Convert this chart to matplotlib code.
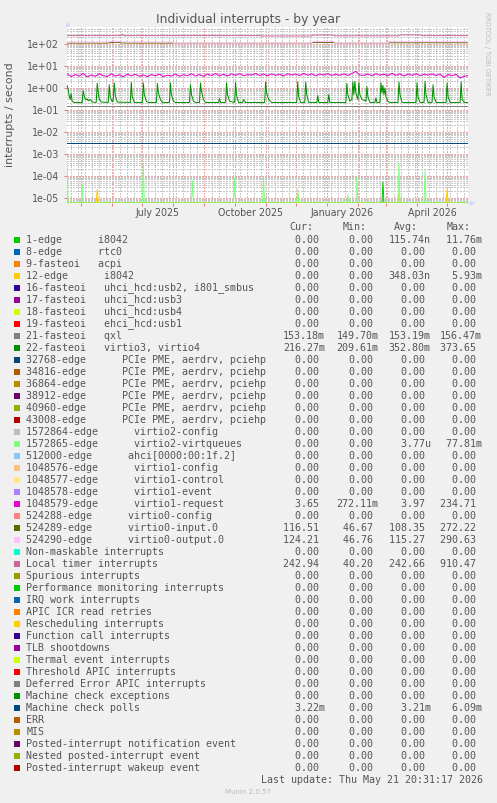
import numpy as np
import pandas as pd
import matplotlib
matplotlib.use('Agg')
import matplotlib.pyplot as plt
import matplotlib.dates as mdates
from matplotlib.ticker import LogLocator, FuncFormatter, NullFormatter
from matplotlib.transforms import blended_transform_factory
from matplotlib.patches import Rectangle
from matplotlib.lines import Line2D

# --- legend table (munin order) ---
names = [
    '1-edge      i8042', '8-edge      rtc0', '9-fasteoi   acpi', '12-edge      i8042',
    '16-fasteoi   uhci_hcd:usb2, i801_smbus', '17-fasteoi   uhci_hcd:usb3',
    '18-fasteoi   uhci_hcd:usb4', '19-fasteoi   ehci_hcd:usb1', '21-fasteoi   qxl',
    '22-fasteoi   virtio3, virtio4',
    '32768-edge      PCIe PME, aerdrv, pciehp', '34816-edge      PCIe PME, aerdrv, pciehp',
    '36864-edge      PCIe PME, aerdrv, pciehp', '38912-edge      PCIe PME, aerdrv, pciehp',
    '40960-edge      PCIe PME, aerdrv, pciehp', '43008-edge      PCIe PME, aerdrv, pciehp',
    '1572864-edge      virtio2-config', '1572865-edge      virtio2-virtqueues',
    '512000-edge      ahci[0000:00:1f.2]', '1048576-edge      virtio1-config',
    '1048577-edge      virtio1-control', '1048578-edge      virtio1-event',
    '1048579-edge      virtio1-request', '524288-edge      virtio0-config',
    '524289-edge      virtio0-input.0', '524290-edge      virtio0-output.0',
    'Non-maskable interrupts', 'Local timer interrupts', 'Spurious interrupts',
    'Performance monitoring interrupts', 'IRQ work interrupts', 'APIC ICR read retries',
    'Rescheduling interrupts', 'Function call interrupts', 'TLB shootdowns',
    'Thermal event interrupts', 'Threshold APIC interrupts',
    'Deferred Error APIC interrupts', 'Machine check exceptions', 'Machine check polls',
    'ERR', 'MIS', 'Posted-interrupt notification event', 'Nested posted-interrupt event',
    'Posted-interrupt wakeup event',
]
colors = [
    '#00CC00', '#0066B3', '#FF8000', '#FFCC00', '#330099', '#990099', '#CCFF00', '#FF0000',
    '#808080', '#008F00', '#00487D', '#B35A00', '#B38F00', '#6B006B', '#8FB300', '#B30000',
    '#BEBEBE', '#80FF80', '#80C9FF', '#FFC080', '#FFE680', '#AA80FF', '#EE00CC', '#FF8080',
    '#666600', '#FFBFFF', '#00FFCC', '#CC6699', '#999900',
    '#00CC00', '#0066B3', '#FF8000', '#FFCC00', '#330099', '#990099', '#CCFF00', '#FF0000',
    '#808080', '#008F00', '#00487D', '#B35A00', '#B38F00', '#6B006B', '#8FB300', '#B30000',
]
cur = [0] * 45
mins = [0] * 45
avgs = [0] * 45
maxs = [0] * 45
cur[8], mins[8], avgs[8], maxs[8] = 153.18e-3, 149.70e-3, 153.19e-3, 156.47e-3
cur[9], mins[9], avgs[9], maxs[9] = 216.27e-3, 209.61e-3, 352.80e-3, 373.65
avgs[0], maxs[0] = 115.74e-9, 11.76e-3
avgs[3], maxs[3] = 348.03e-9, 5.93e-3
avgs[17], maxs[17] = 3.77e-6, 77.81e-3
cur[22], mins[22], avgs[22], maxs[22] = 3.65, 272.11e-3, 3.97, 234.71
cur[24], mins[24], avgs[24], maxs[24] = 116.51, 46.67, 108.35, 272.22
cur[25], mins[25], avgs[25], maxs[25] = 124.21, 46.76, 115.27, 290.63
cur[27], mins[27], avgs[27], maxs[27] = 242.94, 40.20, 242.66, 910.47
cur[39], mins[39], avgs[39], maxs[39] = 3.22e-3, 0, 3.21e-3, 6.09e-3

# --- series (x = days since 2025-04-17) ---
virtio34_days = [0, 1, 2, 3, 4, 5, 7, 15, 16, 17, 18, 20, 21, 23, 25, 29, 30, 31, 32, 34,
                 41, 42, 43, 45, 46, 47, 48, 50, 63, 64, 65, 67, 75, 76, 77, 79, 81,
                 89, 90, 91, 93, 95, 102, 103, 104, 106, 108, 122, 123, 124, 126, 128,
                 132, 133, 134, 136, 138, 151, 152, 153, 158, 159, 160, 162, 167, 168, 169, 171,
                 175, 176, 178, 197, 198, 199, 201, 204, 229, 230, 231, 233, 237, 238, 239, 241,
                 249, 250, 251, 260, 261, 262, 278, 279, 280, 282, 284, 285, 286, 287, 288, 290,
                 291, 292, 294, 298, 299, 300, 302, 307, 308, 309, 312, 313, 314, 315, 316, 317,
                 318, 320, 322, 330, 331, 332, 334, 348, 349, 350, 352, 356, 357, 358, 360,
                 364, 365, 366, 368, 378, 379, 380, 382, 392, 393, 394, 396, 400]
virtio34_vals = [1.3, 0.9, 0.45, 0.3, 0.55, 0.25, 0.22, 0.22, 0.75, 0.45, 0.3, 0.32, 0.26, 0.3, 0.23,
                 0.22, 1.65, 0.6, 0.32, 0.23, 0.22, 1.4, 0.4, 0.23, 0.3, 1.7, 0.45, 0.23,
                 0.22, 1.8, 0.4, 0.22, 0.22, 1.7, 0.5, 0.25, 0.22, 0.22, 1.6, 0.6, 0.3, 0.22,
                 0.22, 1.7, 0.5, 0.25, 0.22, 0.22, 1.4, 0.5, 0.25, 0.22, 0.22, 1.7, 0.7, 0.3, 0.22,
                 0.22, 0.33, 0.22, 0.22, 1.7, 0.5, 0.25, 0.22, 1.8, 0.45, 0.22, 0.22, 0.3, 0.22,
                 0.22, 1.9, 0.6, 0.3, 0.22, 0.22, 1.9, 0.4, 0.22, 0.22, 1.85, 0.5, 0.22,
                 0.22, 0.45, 0.22, 0.22, 0.5, 0.22, 0.22, 1.6, 0.5, 0.25, 0.3, 1.9, 0.5, 2.0, 0.6, 0.3,
                 1.7, 0.5, 0.3, 0.25, 1.15, 0.4, 0.22, 0.22, 0.35, 0.22, 0.22, 1.7, 0.6, 1.3, 0.5, 1.0,
                 0.4, 0.25, 0.22, 0.22, 1.9, 0.5, 0.22, 0.22, 1.7, 0.4, 0.22, 0.22, 2.0, 0.5, 0.22,
                 0.22, 1.4, 0.4, 0.22, 0.22, 1.7, 0.4, 0.22, 0.22, 1.9, 0.3, 0.22, 0.22]

request_days = list(range(0, 401, 4))
request_vals = [4.4, 3.3, 4.1, 3.5, 4.6, 3.2, 3.9, 3.4, 4.5, 3.6,
                3.3, 4.4, 3.5, 4.0, 3.2, 4.3, 3.6, 4.2, 3.4, 3.9,
                3.3, 4.1, 3.6, 4.3, 3.3, 3.8, 3.5, 4.4, 3.4, 4.0,
                3.6, 4.5, 3.5, 4.1, 3.4, 4.3, 3.7, 4.6, 3.6, 4.2,
                3.5, 4.4, 3.8, 4.5, 3.6, 4.1, 3.9, 4.6, 3.7, 4.3,
                3.6, 4.4, 3.8, 4.2, 3.5, 4.5, 3.9, 4.3, 3.7, 4.6,
                3.8, 4.4, 3.6, 4.3, 3.9, 4.5, 3.7, 4.2, 3.8, 4.4,
                3.7, 4.6, 5.7, 3.9, 3.8, 4.3, 3.6, 4.5, 3.9, 4.2,
                3.7, 4.6, 3.8, 4.4, 3.5, 4.3, 3.8, 4.5, 3.6, 4.2,
                3.9, 4.4, 3.7, 4.3, 3.0, 4.1, 3.6, 4.2, 2.8, 3.4, 3.6]

timer_days = [0, 54, 55, 56, 126, 127, 128, 144, 145, 146, 193, 194, 244, 245, 265, 266,
              290, 291, 292, 331, 332, 353, 354, 379, 380, 381, 400]
timer_vals = [240, 240, 285, 240, 240, 258, 240, 240, 262, 240, 240, 232, 232, 256, 256, 236,
              236, 262, 236, 236, 258, 258, 240, 240, 255, 240, 240]

virtio0_days = [0, 40, 45, 50, 55, 60, 105, 106, 244, 245, 266, 267, 320, 321, 400]
input_vals = [110, 110, 118, 120, 112, 110, 110, 108, 108, 118, 118, 108, 108, 114, 114]
output_vals = [124, 124, 133, 135, 126, 124, 124, 108, 108, 133, 133, 108, 108, 128, 128]

qxl_days = [0, 400]
qxl_vals = [0.153, 0.153]
mcpoll_days = [0, 400]
mcpoll_vals = [3.21e-3, 3.21e-3]

# spikes (day, peak)
virtq_days = [0, 15, 76, 125, 167, 196, 230, 280, 289, 331, 357]
virtq_peaks = [3.3e-4, 4.0e-5, 3.8e-4, 6.0e-5, 8.2e-5, 8.2e-5, 2.5e-5, 1.4e-5, 9.0e-5, 4.0e-4, 1.9e-4]
i8042_days = [315]
i8042_peaks = [5.3e-5]
i8042b_days = [0, 30, 230, 331, 379]
i8042b_peaks = [1.8e-5, 2.5e-5, 1.6e-5, 1.6e-5, 2.5e-5]

START = pd.Timestamp('2025-04-17')
END = pd.Timestamp('2026-05-21 20:31:17')
YMIN, YMAX = 5.9e-6, 593


def spikes(days, peaks):
    x, y = [-1], [0.0]
    for d, p in zip(days, peaks):
        x += [d - 1, d, d + 1]
        y += [0.0, p, 0.0]
    x.append(400)
    y.append(0.0)
    return x, y


series = {
    0: spikes(i8042_days, i8042_peaks),
    3: spikes(i8042b_days, i8042b_peaks),
    8: (qxl_days, qxl_vals),
    9: (virtio34_days, virtio34_vals),
    17: spikes(virtq_days, virtq_peaks),
    22: (request_days, request_vals),
    24: (virtio0_days, input_vals),
    25: (virtio0_days, output_vals),
    27: (timer_days, timer_vals),
    39: (mcpoll_days, mcpoll_vals),
}


def si(v):
    if v == 0:
        return '%6.2f ' % 0
    e = int(np.floor(np.log10(abs(v)) / 3) * 3)
    e = max(min(e, 3), -9)
    sym = {-9: 'n', -6: 'u', -3: 'm', 0: ' ', 3: 'k'}[e]
    return '%6.2f%s' % (v / 10.0 ** e, sym)


W, H = 497, 803
FW, FH = W + 0.3, H + 0.3
DPI = 72
TXT = '#555555'


def fx(x):
    return x / FW


def fy(y):
    return 1 - y / FH


fig = plt.figure(figsize=(FW / DPI, FH / DPI), dpi=DPI, facecolor='#F0F0F0')
ax = fig.add_axes([fx(67), fy(203.3), fx(468 - 67), (203.3 - 27.3) / FH])
ax.set_facecolor('white')
ax.set_yscale('log')

for i in range(len(names)):
    if i in series:
        d, v = series[i]
    else:
        d, v = [-1, 400], [0.0, 0.0]
    t = (START + pd.to_timedelta(np.array(d, dtype=float), unit='D')).to_numpy()
    ax.plot(t, np.maximum(np.array(v, dtype=float), YMIN), color=colors[i], lw=1, zorder=3)

ax.set_ylim(YMIN, YMAX)
ax.set_xlim(END - pd.Timedelta(days=400), END)

ax.xaxis.set_major_locator(mdates.MonthLocator())
ax.xaxis.set_minor_locator(mdates.WeekdayLocator(byweekday=mdates.MO))
ax.xaxis.set_major_formatter(NullFormatter())
ax.xaxis.set_minor_formatter(NullFormatter())
ax.yaxis.set_major_locator(LogLocator(base=10, numticks=20))
ax.yaxis.set_minor_locator(LogLocator(base=10, subs=np.arange(2, 10), numticks=20))
ax.yaxis.set_major_formatter(FuncFormatter(lambda v, p: f'{v:.0e}'))
ax.yaxis.set_minor_formatter(NullFormatter())
ax.grid(which='minor', color='#C8C8C8', ls=(0, (1, 1)), lw=1, antialiased=False)
ax.grid(which='major', color='#F0A8A8', ls=(0, (1, 1)), lw=1, antialiased=False)
ax.set_axisbelow(True)

ax.tick_params(axis='x', which='major', length=3, width=1, color='#E08080')
ax.tick_params(axis='x', which='minor', length=0)
ax.tick_params(axis='y', which='major', length=3, width=1, color='#E08080',
               labelsize=9.5, labelcolor=TXT, pad=5)
ax.tick_params(axis='y', which='minor', length=0)
for s in ax.spines.values():
    s.set_visible(False)

# axis lines + arrows
fig.add_artist(Line2D([fx(67), fx(67)], [fy(203.3), fy(22)], color='#CFD6F8', lw=1, zorder=0))
fig.add_artist(Line2D([fx(67)], [fy(23)], marker='^', ms=5, color='#CFD6F8', mec='none'))
fig.add_artist(Line2D([fx(468), fx(472)], [fy(203.3), fy(203.3)], color='#CFD6F8', lw=1))
fig.add_artist(Line2D([fx(472)], [fy(203.3)], marker='>', ms=5, color='#CFD6F8', mec='none'))

# month labels centred on the month
trans = blended_transform_factory(ax.transData, fig.transFigure)
for m in ['2025-07', '2025-10', '2026-01', '2026-04']:
    s = pd.Timestamp(m + '-01')
    e = s + pd.DateOffset(months=1)
    mid = s + (e - s) / 2
    ax.text(mdates.date2num(mid), fy(212.5), s.strftime('%B %Y'), transform=trans,
            ha='center', va='center', fontsize=9.5, color=TXT)

fig.text(fx(248), fy(19.5), 'Individual interrupts - by year', ha='center', va='center',
         fontsize=12.4, color=TXT)
fig.text(fx(10.5), fy(115), 'interrupts / second', rotation=90, ha='center', va='center',
         fontsize=11, color=TXT)
fig.text(fx(487), fy(53.5), 'RRDTOOL / TOBI OETIKER', rotation=270, ha='center', va='center',
         fontsize=6.5, color='#BBBBBB')

mono = 'DejaVu Sans Mono'
for lab, x in zip(['Cur:', 'Min:', 'Avg:', 'Max:'], [289, 343, 394, 447]):
    fig.text(fx(x), fy(226.7), lab, ha='left', va='center', fontsize=10, family=mono, color=TXT)

cols = [283, 336.5, 388.5, 440]
for i, name in enumerate(names):
    y = 240 + 12 * i
    fig.patches.append(Rectangle((fx(14), fy(y + 3)), 6 / FW, 6 / FH, transform=fig.transFigure,
                                 facecolor=colors[i], edgecolor='none'))
    fig.text(fx(26.3), fy(y), name, ha='left', va='center', fontsize=10, family=mono, color=TXT)
    for x, vals in zip(cols, [cur, mins, avgs, maxs]):
        fig.text(fx(x), fy(y), si(vals[i]), ha='left', va='center', fontsize=10,
                 family=mono, color=TXT)

fig.text(fx(483), fy(780), 'Last update: Thu May 21 20:31:17 2026', ha='right', va='center',
         fontsize=10, family=mono, color=TXT)
fig.text(fx(247.5), fy(792), 'Munin 2.0.57', ha='center', va='center', fontsize=7,
         color='#BBBBBB')

fig.savefig('out.png', dpi=DPI, facecolor=fig.get_facecolor())
